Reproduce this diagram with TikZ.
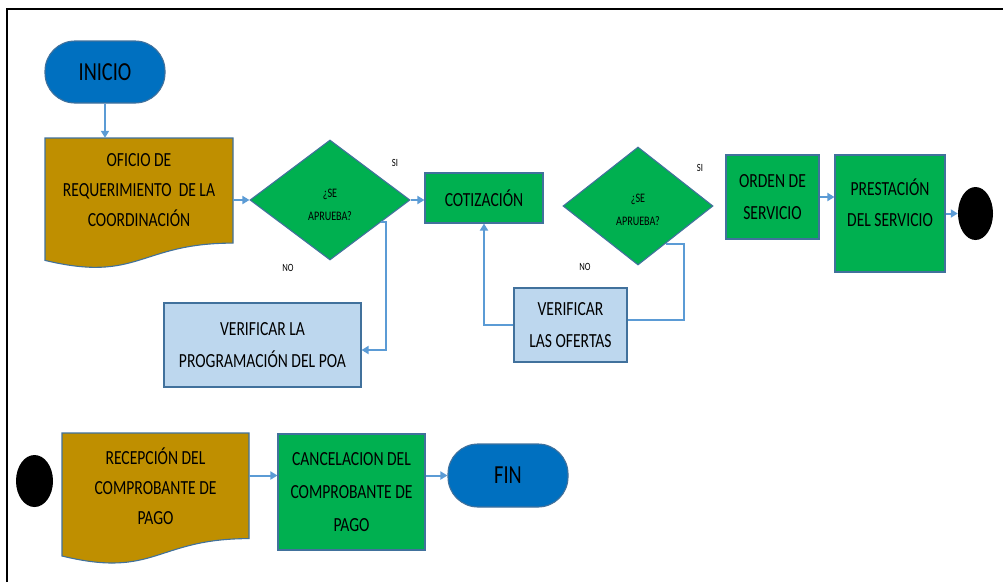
\documentclass[tikz,border=0pt]{standalone}
\usepackage{fontspec}
\setmainfont{Carlito}[FakeStretch=0.78]
\usetikzlibrary{shapes.geometric,arrows.meta,calc}

\definecolor{termblue}{HTML}{0070C0}
\definecolor{docgold}{HTML}{BF8F00}
\definecolor{stepgreen}{HTML}{00B050}
\definecolor{paleblue}{HTML}{BDD7EE}
\definecolor{edgeblue}{HTML}{41719C}
\definecolor{lineblue}{HTML}{5B9BD5}

\begin{document}
\begin{tikzpicture}[x=1pt,y=-1pt,
  shapeedge/.style={draw=edgeblue, line width=1.1pt},
  term/.style={shapeedge, fill=termblue, rounded corners=30pt, inner sep=0pt,
    font=\fontsize{26}{26}\selectfont},
  task/.style={shapeedge, rectangle, fill=stepgreen, inner sep=0pt, align=center,
    font=\fontsize{20}{32}\selectfont},
  check/.style={task, fill=paleblue},
  doctext/.style={rectangle, inner sep=0pt, align=center,
    font=\fontsize{20}{30}\selectfont},
  boxtext/.style={inner sep=0pt, align=center, font=\fontsize{20}{31}\selectfont},
  docfill/.style={shapeedge, fill=docgold},
  decision/.style={shapeedge, diamond, fill=stepgreen, inner sep=0pt},
  dectext/.style={align=center, inner sep=0pt, font=\fontsize{13}{23}\selectfont},
  tag/.style={inner sep=0pt, font=\fontsize{11}{11}\selectfont},
  junction/.style={ellipse, fill=black, inner sep=0pt},
  arr/.style={draw=lineblue, line width=2pt, -{Triangle[length=7pt,width=8pt]}},
  plain/.style={draw=lineblue, line width=2pt}]

\useasboundingbox (0,0) rectangle (1003,582);

% frame
\draw[line width=2pt] (7,582) -- (7,9) -- (1003,9);

% document shapes (wavy bottom)
\path[docfill] (45,138) -- (233,138) -- (233,243.1)
  .. controls (139,243.1) and (139,283) .. (45,260.4) -- cycle;
\path[docfill] (62,433) -- (249,433) -- (249,538.6)
  .. controls (155.5,538.6) and (155.5,578.8) .. (62,556) -- cycle;

% upper row
\node[term, minimum width=120pt, minimum height=62pt] (ini) at (105,72) {INICIO};
\node[doctext, minimum width=188pt, minimum height=105pt] (ofi) at (139,190.5)
  {OFICIO DE\\REQUERIMIENTO\ \ DE LA\\COORDINACIÓN};
\node[decision, minimum width=160pt, minimum height=120pt] (d1) at (330,200) {};
\node[dectext] (d1t) at (330,204.5) {¿SE\\APRUEBA?};
\node[task, minimum width=118pt, minimum height=50pt] (cot) at (484,198) {COTIZACIÓN};
\node[decision, minimum width=150pt, minimum height=118pt] (d2) at (638,206) {};
\node[dectext] (d2t) at (638,209.5) {¿SE\\APRUEBA?};
\node[task, minimum width=93pt, minimum height=84pt] (ord) at (772.5,197) {ORDEN DE\\SERVICIO};
\node[task, minimum width=110pt, minimum height=117pt] (pre) at (890,213.5) {};
\node[boxtext] (pret) at (890,202.5) {PRESTACIÓN\\DEL SERVICIO};
\node[junction, minimum width=35pt, minimum height=53pt] (j1) at (975.5,213.5) {};

% review boxes
\node[check, minimum width=197pt, minimum height=84pt] (poa) at (262.5,345)
  {VERIFICAR LA\\PROGRAMACIÓN DEL POA};
\node[check, minimum width=113pt, minimum height=74pt] (ofe) at (570.5,325)
  {VERIFICAR\\LAS OFERTAS};

% branch labels
\node[tag] (si1) at (395,163) {SI};
\node[tag] (no1) at (288,268) {NO};
\node[tag] (si2) at (700,168) {SI};
\node[tag] (no2) at (585,267) {NO};

% lower row
\node[junction, minimum width=37pt, minimum height=52pt] (j2) at (34.5,481) {};
\node[doctext, minimum width=187pt, minimum height=105.6pt] (rec) at (155.5,486)
  {RECEPCIÓN DEL\\COMPROBANTE DE\\PAGO};
\node[task, minimum width=147pt, minimum height=116pt, font=\fontsize{20}{33}\selectfont]
  (can) at (351.5,492) {CANCELACION DEL\\COMPROBANTE DE\\PAGO};
\node[term, minimum width=120pt, minimum height=63pt] (fin) at (508,475.5) {FIN};

% connectors
\draw[arr] (ini.south) -- (ini.south |- ofi.north);
\draw[arr] (ofi.east |- d1.west) -- (d1.west);
\draw[arr] (d1.east) -- (d1.east -| cot.west);

\coordinate (d1o) at ($(d1.east)!0.37!(d1.south)$);
\coordinate (k1) at ($(poa.east)+(24,5)$);
\draw[arr] (d1o) -| (k1) -- (k1 -| poa.east);

\coordinate (d2o) at ($(d2.east)!0.63!(d2.south)$);
\coordinate (k2) at ($(ofe.east)+(56,-5)$);
\draw[plain] (d2o) -| (k2) -- (k2 -| ofe.east);
\draw[arr] (ofe.west) -| (cot.south);

\draw[arr] (ord.east) -- (ord.east -| pre.west);
\draw[arr] (pre.east) -- (j1.west);

\draw[arr] (rec.east |- fin.west) -- (can.west |- fin.west);
\draw[arr] (can.east |- fin.west) -- (fin.west);
\end{tikzpicture}
\end{document}
